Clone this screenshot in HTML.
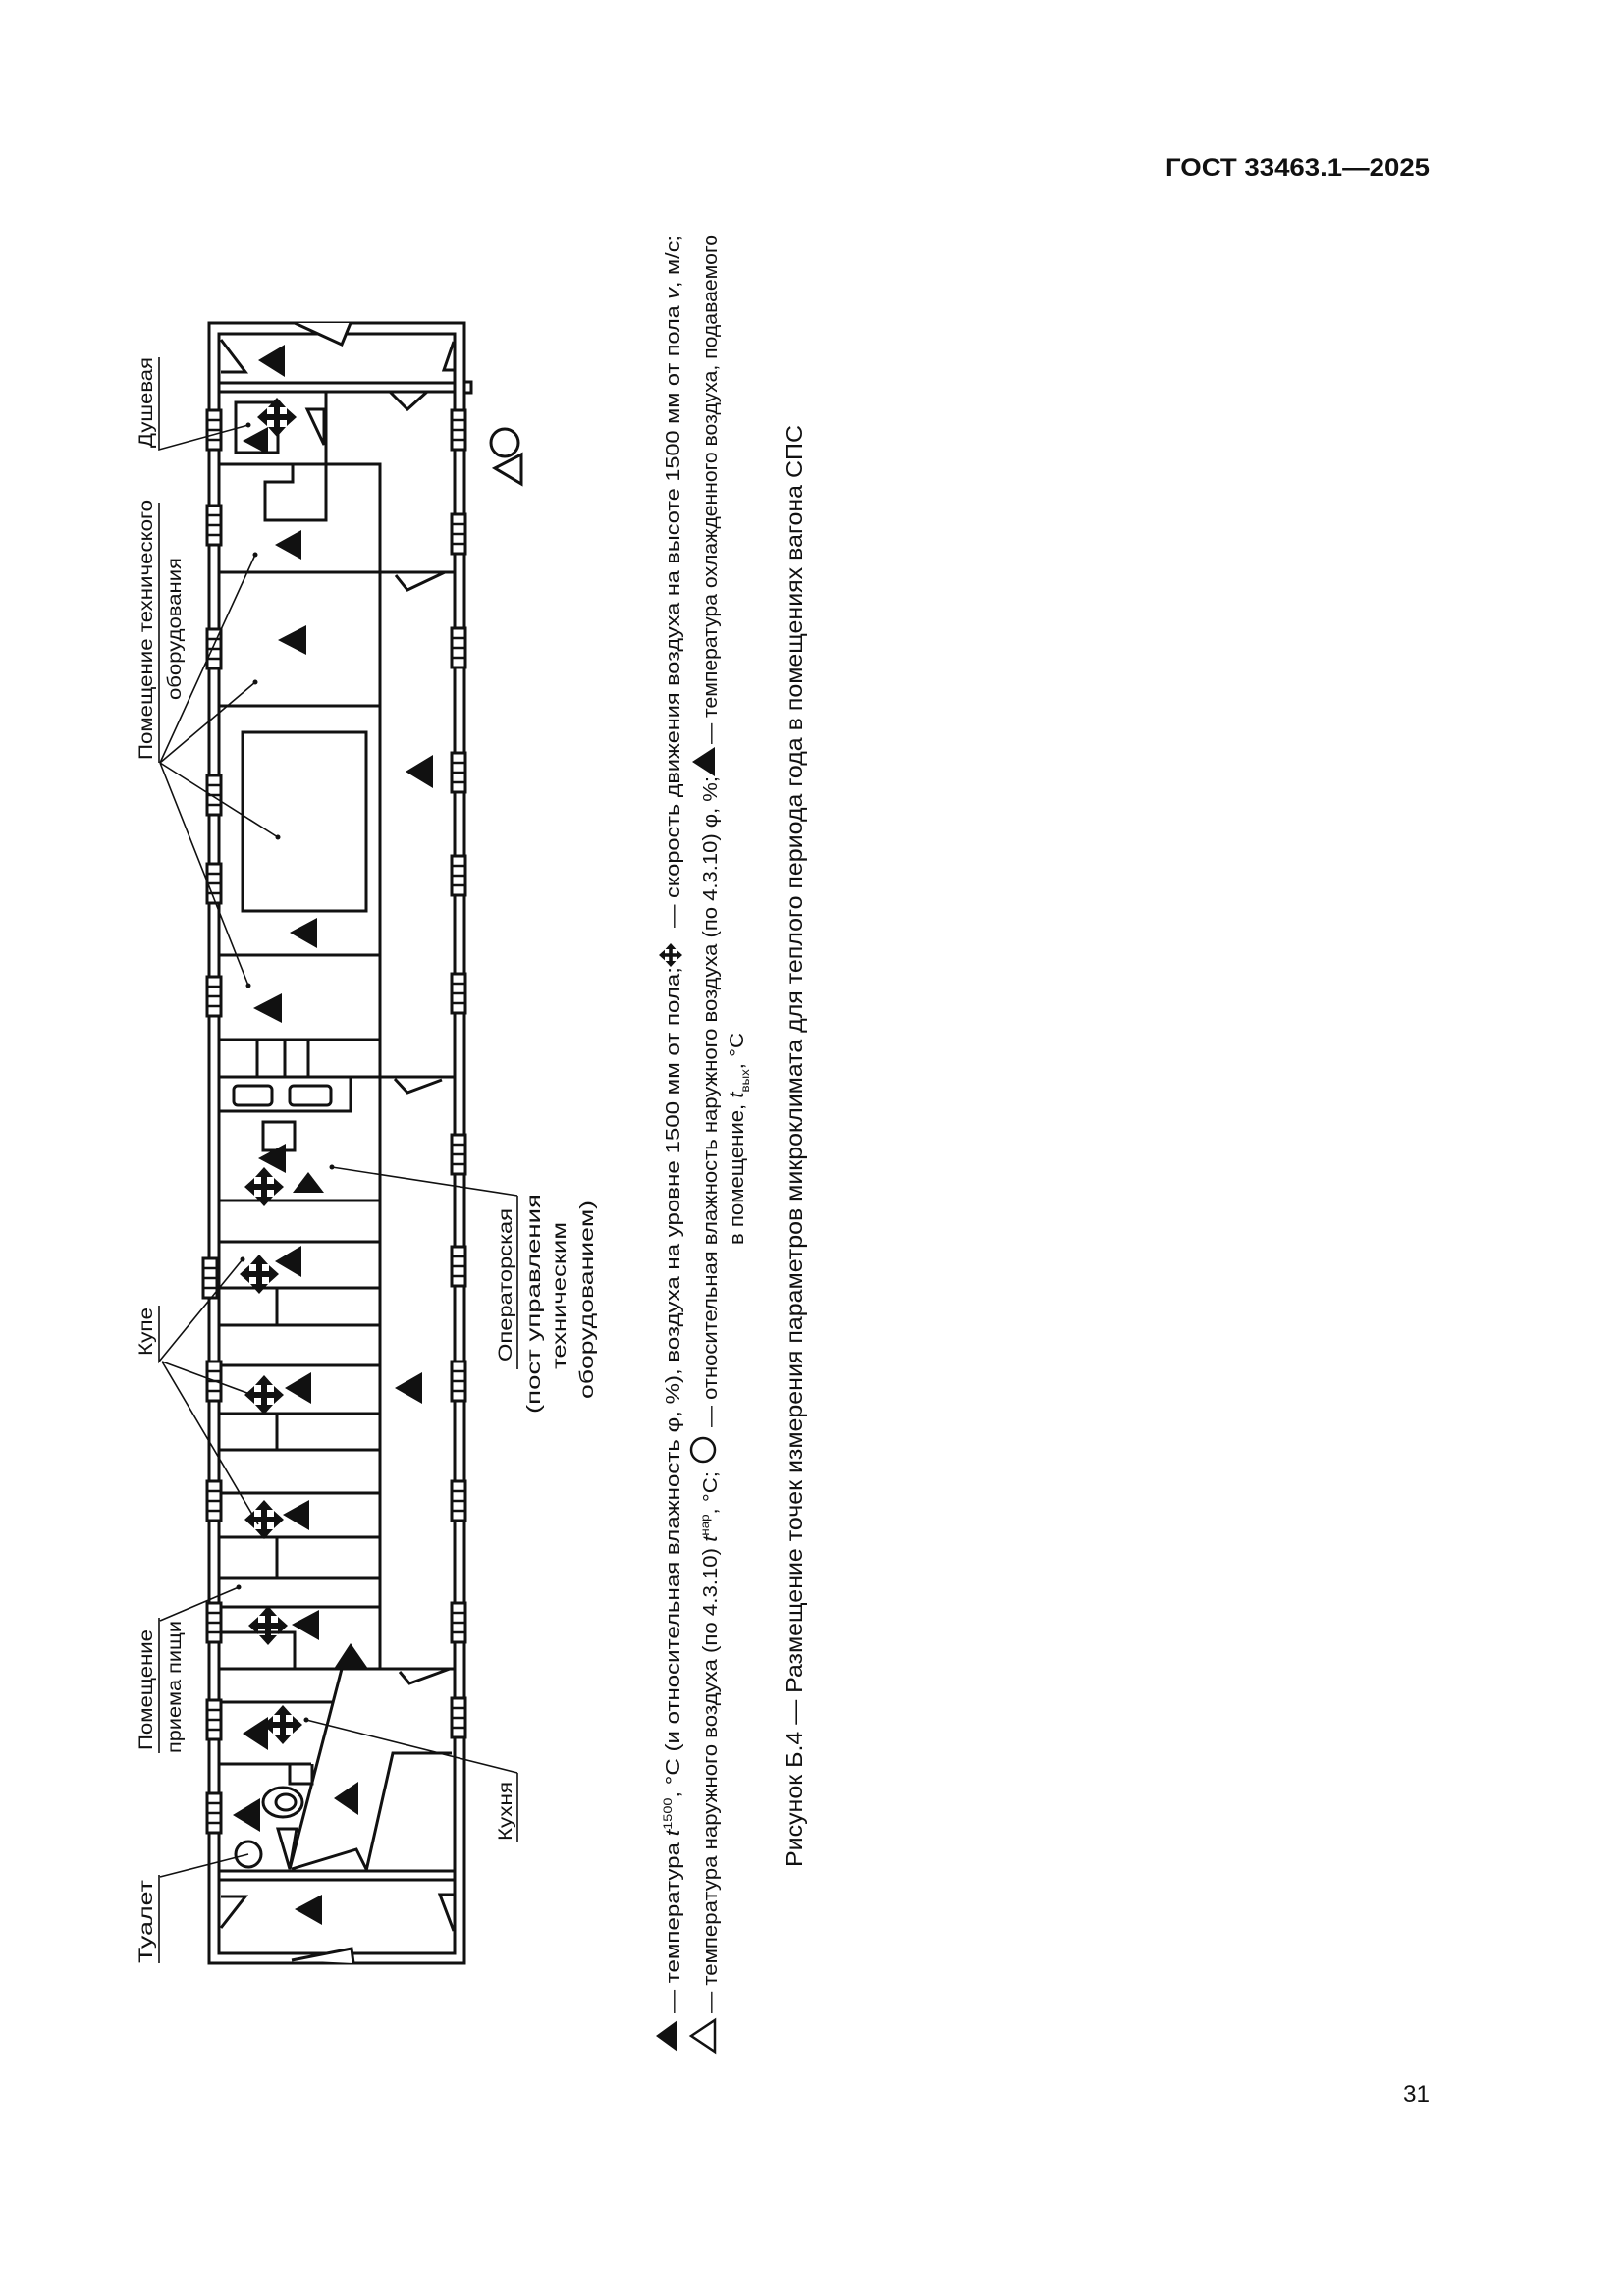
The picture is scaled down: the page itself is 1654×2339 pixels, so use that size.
<!DOCTYPE html>
<html><head><meta charset="utf-8"><style>
html,body{margin:0;padding:0;background:#fff}
svg{display:block}
text{font-family:"Liberation Sans",sans-serif;fill:#111}
</style></head><body>
<svg width="1654" height="2339" viewBox="0 0 1654 2339" xmlns="http://www.w3.org/2000/svg">
<defs>
<g id="cr"><path d="M0,-20 L-9,-10 L-3,-10 L-3,-3 L-10,-3 L-10,-9 L-20,0 L-10,9 L-10,3 L-3,3 L-3,10 L-9,10 L0,20 L9,10 L3,10 L3,3 L10,3 L10,9 L20,0 L10,-9 L10,-3 L3,-3 L3,-10 L9,-10 Z" fill="#111"/></g>
<g id="wl"><rect x="-7" y="0" width="14" height="40" fill="#fff" stroke="#111" stroke-width="3"/><path d="M-7,10H7M-7,20H7M-7,30H7" stroke="#111" stroke-width="2.5"/></g>
</defs>
<text x="1187" y="179" font-size="25" font-weight="bold" textLength="269" lengthAdjust="spacingAndGlyphs">ГОСТ 33463.1—2025</text>
<text x="1429" y="2141" font-size="24" textLength="27" lengthAdjust="spacingAndGlyphs">31</text>

<g stroke="#111" stroke-width="3" fill="none">
<rect x="213" y="329" width="260" height="1671"/>
<rect x="223" y="340" width="240" height="1650"/>
<path d="M223,390H463M223,399H463"/>
<path d="M223,1906H463M223,1915H463"/>
<rect x="473" y="389" width="7" height="11" fill="#fff"/>
<path d="M300,329 L348,351 L357,329" fill="#fff"/>
<path d="M297,1997 L358,1985 L360,2000" fill="#fff"/>
<path d="M225,346 L250,379 L225,379"/><path d="M462,348 L452,377 L462,377"/>
<path d="M225,1964 L250,1932 L225,1932"/><path d="M462,1967 L448,1930 L462,1930"/>
<rect x="240" y="410" width="43" height="51"/>
<path d="M313,417 L330,417 L330,453 Z"/>
<path d="M332,399 V530 H270 V491 H298 V473 H223 M298,473 H387 V1700"/>
<path d="M397,399 L415,417 L435,399"/>
<path d="M223,583H463 M223,719H387 M223,973H387 M223,1059H387 M223,1097H463"/>
<path d="M403,586 L415,601 L453,583"/>
<rect x="247" y="746" width="126" height="182"/>
<path d="M262,1059V1097 M290,1059V1097 M314,1059V1097"/>
<path d="M402,1099 L415,1113 L450,1100"/>
<rect x="238" y="1106" width="39" height="20" rx="4"/>
<rect x="295" y="1106" width="42" height="20" rx="4"/>
<path d="M357,1097V1132H223"/>
<rect x="268" y="1143" width="32" height="29"/>
<path d="M223,1223H387 M223,1265H387 M223,1312H387 M282,1312V1350 M223,1350H387 M223,1391H387 M223,1440H387 M282,1440V1477 M223,1477H387 M223,1521H387 M223,1566H387 M282,1566V1608 M223,1608H387 M223,1637H387 M223,1663H300V1700 M223,1700H463"/>
<path d="M407,1703 L417,1715 L458,1700"/>
<path d="M223,1734H338 M223,1797H317 M295,1797V1817H318V1797"/>
<path d="M348,1700 L295,1904"/>
<path d="M460,1786 H400 L373,1906 M297,1904 L363,1884 L373,1904"/>
<path d="M283,1863 L302,1863 L295,1904 Z"/>
<ellipse cx="253" cy="1889" rx="13" ry="13"/>
<ellipse cx="288" cy="1836" rx="20" ry="15"/>
<ellipse cx="291" cy="1836" rx="10" ry="8"/>
</g>

<g>
<use href="#wl" x="218" y="418"/><use href="#wl" x="218" y="515"/><use href="#wl" x="218" y="641"/><use href="#wl" x="218" y="790"/><use href="#wl" x="218" y="880"/><use href="#wl" x="218" y="995"/><use href="#wl" x="214" y="1282"/><use href="#wl" x="218" y="1387"/><use href="#wl" x="218" y="1509"/><use href="#wl" x="218" y="1633"/><use href="#wl" x="218" y="1732"/><use href="#wl" x="218" y="1827"/>
<use href="#wl" x="467" y="418"/><use href="#wl" x="467" y="524"/><use href="#wl" x="467" y="640"/><use href="#wl" x="467" y="767"/><use href="#wl" x="467" y="872"/><use href="#wl" x="467" y="992"/><use href="#wl" x="467" y="1156"/><use href="#wl" x="467" y="1270"/><use href="#wl" x="467" y="1387"/><use href="#wl" x="467" y="1509"/><use href="#wl" x="467" y="1633"/><use href="#wl" x="467" y="1730"/>
</g>

<g fill="#111">
<polygon points="263,367 290,351 290,384"/>
<polygon points="247,449 273,435 273,463"/>
<polygon points="280,555 307,540 307,570"/>
<polygon points="283,652 312,637 312,667"/>
<polygon points="413,786 441,769 441,803"/>
<polygon points="295,950 323,935 323,966"/>
<polygon points="258,1027 287,1012 287,1042"/>
<polygon points="263,1180 291,1165 291,1195"/>
<polygon points="280,1285 307,1269 307,1301"/>
<polygon points="290,1414 317,1398 317,1430"/>
<polygon points="288,1543 315,1528 315,1559"/>
<polygon points="402,1414 430,1398 430,1430"/>
<polygon points="297,1655 325,1640 325,1671"/>
<polygon points="247,1766 273,1749 273,1783"/>
<polygon points="340,1832 365,1815 365,1849"/>
<polygon points="237,1849 265,1832 265,1866"/>
<polygon points="300,1945 328,1930 328,1961"/>
<polygon points="298,1215 314,1194 330,1215"/>
<polygon points="340,1700 357,1674 375,1700"/>
</g>
<g>
<use href="#cr" x="282" y="425"/><use href="#cr" x="269" y="1209"/><use href="#cr" x="264" y="1298"/><use href="#cr" x="269" y="1421"/><use href="#cr" x="269" y="1548"/><use href="#cr" x="273" y="1656"/><use href="#cr" x="288" y="1757"/>
</g>

<g stroke="#111" stroke-width="1.6" fill="none">
<path d="M162,364V458 L253,433"/>
<path d="M162,512V777"/>
<path d="M163,777L260,565 M163,777L260,695 M163,777L283,853 M163,777L253,1004"/>
<path d="M162,1330V1387 L247,1283 M165,1387L257,1421 M165,1387L263,1553"/>
<path d="M162,1648V1786 M163,1651L243,1617"/>
<path d="M162,1910V2000 M163,1912L253,1889"/>
<path d="M527,1806V1877 M312,1752L527,1806"/>
<path d="M527,1218V1395 M338,1189L527,1218"/>
</g>
<g fill="#111">
<circle cx="253" cy="433" r="2.5"/><circle cx="260" cy="565" r="2.5"/><circle cx="260" cy="695" r="2.5"/><circle cx="283" cy="853" r="2.5"/><circle cx="253" cy="1004" r="2.5"/><circle cx="247" cy="1283" r="2.5"/><circle cx="243" cy="1617" r="2.5"/><circle cx="312" cy="1752" r="2.5"/><circle cx="338" cy="1189" r="2.5"/>
</g>

<g font-size="19">
<text transform="translate(155,456) rotate(-90)" textLength="92" lengthAdjust="spacingAndGlyphs">Душевая</text>
<text transform="translate(155,774) rotate(-90)" textLength="265" lengthAdjust="spacingAndGlyphs">Помещение технического</text>
<text transform="translate(184,713) rotate(-90)" textLength="145" lengthAdjust="spacingAndGlyphs">оборудования</text>
<text transform="translate(155,1381) rotate(-90)" textLength="49" lengthAdjust="spacingAndGlyphs">Купе</text>
<text transform="translate(155,1783) rotate(-90)" textLength="123" lengthAdjust="spacingAndGlyphs">Помещение</text>
<text transform="translate(184,1786) rotate(-90)" textLength="135" lengthAdjust="spacingAndGlyphs">приема пищи</text>
<text transform="translate(155,2000) rotate(-90)" textLength="85" lengthAdjust="spacingAndGlyphs">Туалет</text>
<text transform="translate(521,1875) rotate(-90)" textLength="60" lengthAdjust="spacingAndGlyphs">Кухня</text>
<text transform="translate(521,1387) rotate(-90)" textLength="156" lengthAdjust="spacingAndGlyphs">Операторская</text>
<text transform="translate(550,1440) rotate(-90)" textLength="224" lengthAdjust="spacingAndGlyphs">(пост управления</text>
<text transform="translate(576,1395) rotate(-90)" textLength="150" lengthAdjust="spacingAndGlyphs">техническим</text>
<text transform="translate(604,1425) rotate(-90)" textLength="202" lengthAdjust="spacingAndGlyphs">оборудованием)</text>
</g>
<g stroke="#111" stroke-width="3" fill="none">
<circle cx="514" cy="451" r="14"/>
<polygon points="504,477 531,463 531,493"/>
</g>

<g font-size="20">
<polygon points="668,2074 690,2058 690,2090" fill="#111"/>
<polygon points="704,2074 728,2058 728,2090" fill="none" stroke="#111" stroke-width="2.5"/>
<text transform="translate(692,2051) rotate(-90)" textLength="1066" lengthAdjust="spacingAndGlyphs">— температура <tspan font-style="italic">t</tspan><tspan font-size="12" dy="-8">1500</tspan><tspan dy="8">, °С (и относительная влажность φ, %), воздуха на уровне 1500 мм от пола;</tspan></text>
<use href="#cr" transform="translate(683,973) scale(0.6)"/>
<text transform="translate(692,945) rotate(-90)" textLength="706" lengthAdjust="spacingAndGlyphs">— скорость движения воздуха на высоте 1500 мм от пола <tspan font-style="italic">v</tspan>, м/с;</text>
<text transform="translate(730,2051) rotate(-90)" textLength="552" lengthAdjust="spacingAndGlyphs">— температура наружного воздуха (по 4.3.10) <tspan font-style="italic">t</tspan><tspan font-size="12" dy="-8">нар</tspan><tspan dy="8">, °С;</tspan></text>
<circle cx="716" cy="1477" r="12" fill="none" stroke="#111" stroke-width="2.5"/>
<text transform="translate(730,1454) rotate(-90)" textLength="663" lengthAdjust="spacingAndGlyphs">— относительная влажность наружного воздуха (по 4.3.10) φ, %;</text>
<polygon points="705,776 728,761 728,791" fill="#111"/>
<text transform="translate(730,758) rotate(-90)" textLength="519" lengthAdjust="spacingAndGlyphs">— температура охлажденного воздуха, подаваемого</text>
<text transform="translate(757,1268) rotate(-90)" textLength="216" lengthAdjust="spacingAndGlyphs">в помещение, <tspan font-style="italic">t</tspan><tspan font-size="12" dy="6">вых</tspan><tspan dy="-6">, °С</tspan></text>
</g>
<text transform="translate(817,1902) rotate(-90)" font-size="23" textLength="1469" lengthAdjust="spacingAndGlyphs">Рисунок Б.4 — Размещение точек измерения параметров микроклимата для теплого периода года в помещениях вагона СПС</text>
</svg>
</body></html>
